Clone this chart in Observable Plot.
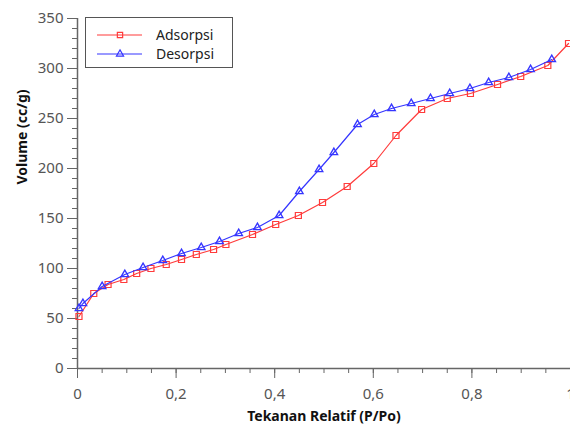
<!DOCTYPE html>
<html>
<head>
<meta charset="utf-8">
<script src="https://cdn.jsdelivr.net/npm/d3@7"></script>
<script src="https://cdn.jsdelivr.net/npm/@observablehq/plot@0.6"></script>
<style>
  html, body { margin: 0; padding: 0; background: #fff; }
  #wrap { position: relative; width: 570px; height: 426px; overflow: hidden; font-family: "Noto Sans", sans-serif; }
  #legend { position: absolute; left: 85px; top: 17px; width: 146px; height: 49px; border: 1.5px solid #555; background: #fff; }
  #legend svg { position: absolute; left: 0; top: 0; }
</style>
</head>
<body>
<div id="wrap"></div>
<script>
const adsX = [0.003,0.033,0.062,0.094,0.12,0.149,0.18,0.211,0.241,0.276,0.301,0.355,0.402,0.448,0.497,0.547,0.601,0.646,0.698,0.75,0.797,0.852,0.899,0.954,0.996];
const adsY = [52,75,84,89,95,100,104,109,114,119,124,134,144,153,166,182,205,233,259,270,275,284,292,303,325];
const desX = [0.003,0.011,0.05,0.096,0.133,0.173,0.211,0.251,0.288,0.327,0.365,0.409,0.45,0.49,0.52,0.568,0.602,0.637,0.677,0.716,0.755,0.796,0.834,0.875,0.919,0.962];
const desY = [60,65,82,94,101,108,115,121,127,135,141,153,177,199,216,244,254,260,265,270,275,280,286,291,299,309];
const seriesNames = ["Adsorpsi", "Desorpsi"];
const xMajor = [0, 0.2, 0.4, 0.6, 0.8, 1];
const xMinor = d3.range(0, 1.0001, 0.05);
const yMajor = [0, 50, 100, 150, 200, 250, 300, 350];
const yMinor = d3.range(0, 351, 10);
const xTitle = "Tekanan Relatif (P/Po)";
const yTitle = "Volume (cc/g)";

const RED = "#ff3b3b", BLUE = "#3535ff", AX = "#666";
const ads = adsX.map((x, i) => ({x, y: adsY[i]}));
const des = desX.map((x, i) => ({x, y: desY[i]}));
const fmt = d => String(d).replace(".", ",");

const chart = Plot.plot({
  width: 570, height: 426,
  marginLeft: 77, marginRight: 0, marginTop: 18, marginBottom: 58,
  style: {fontFamily: "Noto Sans", fontSize: "15px", background: "white"},
  x: {domain: [0, 1]},
  y: {domain: [0, 350]},
  marks: [
    Plot.axisX({ticks: xMinor, tickSize: 5, tickFormat: () => "", label: null, stroke: AX}),
    Plot.axisX({ticks: xMajor, tickSize: 10, tickPadding: 10, tickFormat: fmt, label: null, stroke: AX, fill: "#555", fontSize: 15}),
    Plot.axisY({ticks: yMinor, tickSize: 5, tickFormat: () => "", label: null, stroke: AX}),
    Plot.axisY({ticks: yMajor, tickSize: 10, tickPadding: 4, label: null, stroke: AX, fill: "#555", fontSize: 15}),
    Plot.ruleX([0], {stroke: AX, strokeWidth: 1.5}),
    Plot.ruleY([0], {stroke: AX, strokeWidth: 1.5}),
    Plot.line(ads, {x: "x", y: "y", stroke: RED, strokeWidth: 1.2}),
    Plot.dot(ads, {x: "x", y: "y", symbol: "square", r: 3.4, stroke: RED, strokeWidth: 1.2, fill: "none"}),
    Plot.line(des, {x: "x", y: "y", stroke: BLUE, strokeWidth: 1.2}),
    Plot.dot(des, {x: "x", y: "y", symbol: "triangle", r: 2.8, stroke: BLUE, strokeWidth: 1.3, fill: "none"}),
    Plot.text([xTitle], {frameAnchor: "bottom", dy: 52, fontWeight: "bold", fontSize: 14, fill: "#111"}),
    Plot.text([yTitle], {frameAnchor: "left", rotate: -90, dx: -55, dy: -9, fontWeight: "bold", fontSize: 14, fill: "#111"})
  ]
});

const wrap = document.getElementById("wrap");
wrap.appendChild(chart);

// Legend
const legend = document.createElement("div");
legend.id = "legend";
const colors = [RED, BLUE];
const symbols = [d3.symbolSquare, d3.symbolTriangle];
const svg = d3.create("svg").attr("width", 146).attr("height", 49);
seriesNames.forEach((name, i) => {
  const cy = 17 + i * 19;
  svg.append("line").attr("x1", 11).attr("x2", 56).attr("y1", cy).attr("y2", cy)
    .attr("stroke", colors[i]).attr("stroke-width", 1.2);
  svg.append("path").attr("d", d3.symbol(symbols[i], i === 0 ? 28 : 22)())
    .attr("transform", `translate(34,${cy})`).attr("fill", "none")
    .attr("stroke", colors[i]).attr("stroke-width", 1.2);
  svg.append("text").attr("x", 70).attr("y", cy).attr("dy", "0.36em")
    .attr("font-family", "Noto Sans").attr("font-size", 14).attr("fill", "#222")
    .text(name);
});
legend.appendChild(svg.node());
wrap.appendChild(legend);
</script>
</body>
</html>
